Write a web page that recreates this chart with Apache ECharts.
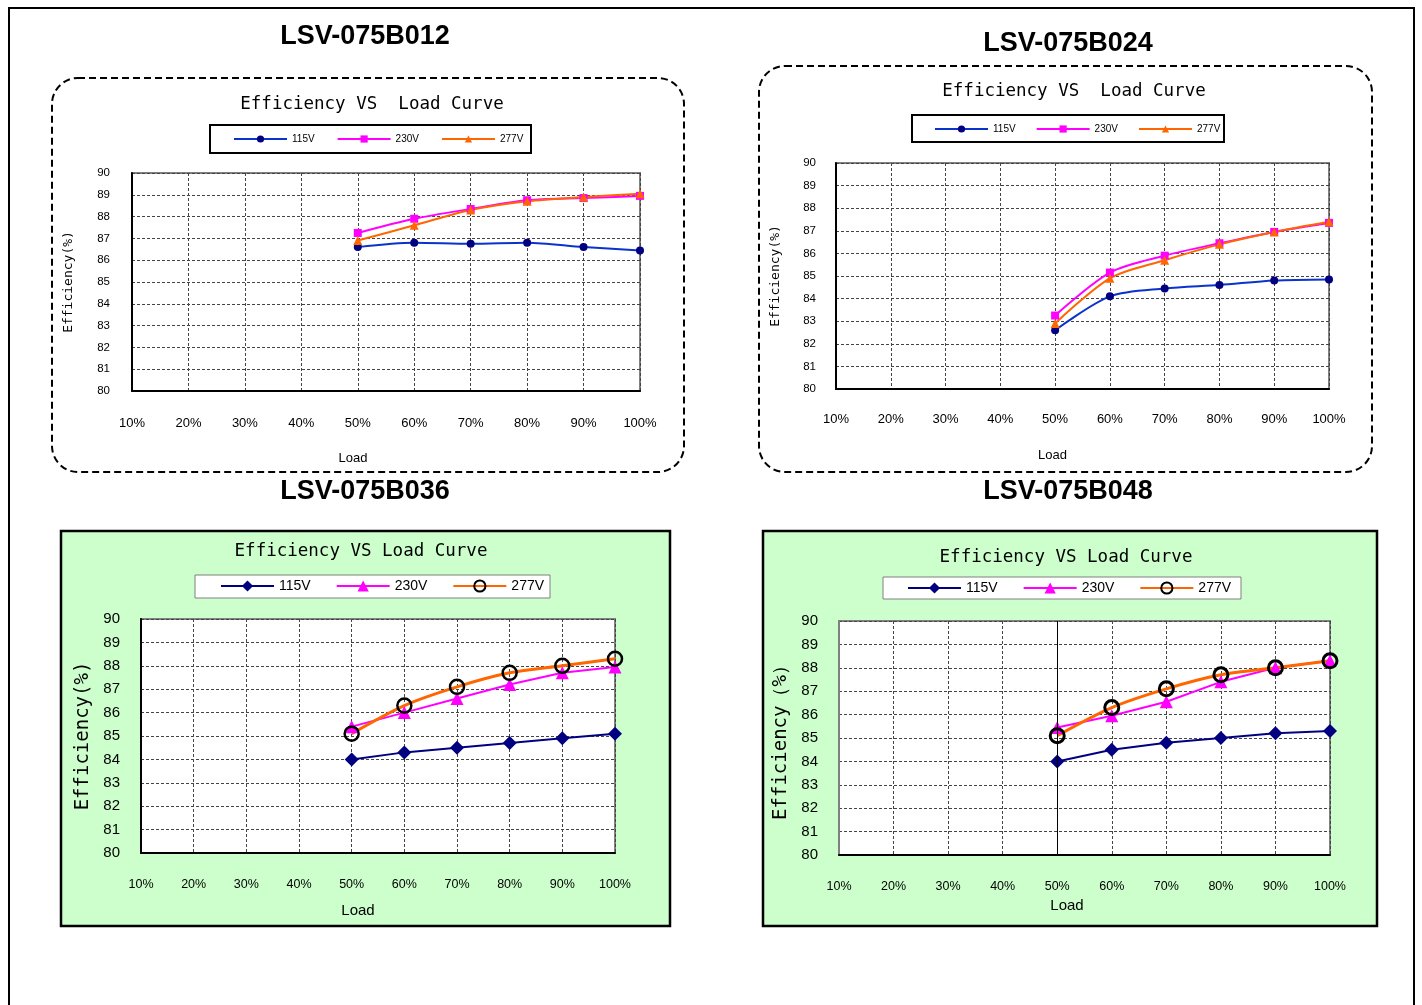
<!DOCTYPE html>
<html>
<head>
<meta charset="utf-8">
<script src="https://cdn.jsdelivr.net/npm/echarts@6/dist/echarts.min.js"></script>
<style>
html,body{margin:0;padding:0;background:#fff;width:1422px;height:1005px;overflow:hidden;}
.c{position:absolute;}
#frame{position:absolute;left:8px;top:7px;width:1407px;height:1100px;border:2px solid #000;box-sizing:border-box;}
</style>
</head>
<body>
<div id="frame"></div>
<div id="c1" class="c" style="left:0;top:0;width:711px;height:478px;"></div>
<div id="c2" class="c" style="left:711px;top:0;width:711px;height:478px;"></div>
<div id="c3" class="c" style="left:0;top:478px;width:711px;height:527px;"></div>
<div id="c4" class="c" style="left:711px;top:478px;width:711px;height:527px;"></div>
<script>
// ---- data ----
var loadLabels = ['10%','20%','30%','40%','50%','60%','70%','80%','90%','100%'];
var seriesNames = ['115V','230V','277V'];
var yTicks = [80, 90, 1];

var b012_115 = [null,null,null,null,86.6,86.8,86.75,86.8,86.6,86.45];
var b012_230 = [null,null,null,null,87.25,87.9,88.35,88.75,88.85,88.95];
var b012_277 = [null,null,null,null,86.9,87.6,88.3,88.7,88.9,89.05];

var b024_115 = [null,null,null,null,82.6,84.1,84.45,84.6,84.8,84.85];
var b024_230 = [null,null,null,null,83.25,85.15,85.9,86.45,86.95,87.35];
var b024_277 = [null,null,null,null,82.9,84.9,85.7,86.4,86.95,87.4];

var b036_115 = [null,null,null,null,84.0,84.3,84.5,84.7,84.9,85.1];
var b036_230 = [null,null,null,null,85.4,86.0,86.6,87.2,87.7,87.95];
var b036_277 = [null,null,null,null,85.1,86.3,87.1,87.7,88.0,88.3];

var b048_115 = [null,null,null,null,84.0,84.5,84.8,85.0,85.2,85.3];
var b048_230 = [null,null,null,null,85.45,85.95,86.55,87.4,88.0,88.3];
var b048_277 = [null,null,null,null,85.1,86.3,87.1,87.7,88.0,88.3];

var SANS = 'Liberation Sans';
var MONO = 'DejaVu Sans Mono';

function styleA(data){ // dashed-box charts
  return [
    {name:seriesNames[0], type:'line', data:data[0], smooth:0.3, symbol:'circle', symbolSize:8,
     lineStyle:{color:'#0a33cc', width:2}, itemStyle:{color:'#000080'}},
    {name:seriesNames[1], type:'line', data:data[1], smooth:0.3, symbol:'rect', symbolSize:8,
     lineStyle:{color:'#ff00ff', width:2}, itemStyle:{color:'#ff00ff'}},
    {name:seriesNames[2], type:'line', data:data[2], smooth:0.3, symbol:'triangle', symbolSize:9,
     lineStyle:{color:'#ff6600', width:2}, itemStyle:{color:'#ff6600'}}
  ];
}
function styleB(data, bw){ // green-box charts
  return [
    {name:seriesNames[0], type:'line', data:data[0], symbol:'diamond', symbolSize:14,
     lineStyle:{color:'#000080', width:2}, itemStyle:{color:'#000080'}},
    {name:seriesNames[1], type:'line', data:data[1], symbol:'triangle', symbolSize:13,
     lineStyle:{color:'#ff00ff', width:2}, itemStyle:{color:'#ff00ff'}},
    {name:seriesNames[2], type:'line', data:data[2], smooth:0.3, symbol:'circle', symbolSize:14,
     lineStyle:{color:'#ff6600', width:3}, itemStyle:{color:'rgba(0,0,0,0)', borderColor:'#000', borderWidth:bw}}
  ];
}

function build(id, c){
  var chart = echarts.init(document.getElementById(id), null, {renderer:'canvas'});
  var g = [];
  if (c.box.type === 'dash') {
    g.push({type:'rect', z:-10, shape:{x:c.box.x, y:c.box.y, width:c.box.w, height:c.box.h, r:26},
      style:{fill:'#fff', stroke:'#000', lineWidth:2, lineDash:[7,4]}});
    g.push({type:'rect', z:-5, shape:{x:c.lg.x, y:c.lg.y, width:c.lg.w, height:c.lg.h},
      style:{fill:'#fff', stroke:'#000', lineWidth:2}});
  } else {
    g.push({type:'rect', z:-10, shape:{x:c.box.x, y:c.box.y, width:c.box.w, height:c.box.h},
      style:{fill:'#ccffcc', stroke:'#000', lineWidth:2.5}});
    g.push({type:'rect', z:-5, shape:{x:c.lg.x, y:c.lg.y, width:c.lg.w, height:c.lg.h},
      style:{fill:'#fff', stroke:'#808080', lineWidth:1}});
  }
  g.push({type:'text', z:10, x:c.title.x, y:c.title.y,
    style:{text:c.title.text, align:'center', verticalAlign:'middle', fill:'#000',
      font:'bold 27px "' + SANS + '"'}});
  g.push({type:'text', z:10, x:c.sub.x, y:c.sub.y,
    style:{text:c.sub.text, align:'center', verticalAlign:'middle', fill:'#000',
      font:'17.5px "' + MONO + '"'}});

  var series = c.series;
  if (c.crossLine) {
    series[0].markLine = {silent:true, symbol:'none', label:{show:false},
      lineStyle:{color:'#000', width:1, type:'solid'}, data:[{xAxis:c.crossLine}]};
  }

  chart.setOption({
    animation:false,
    graphic:g,
    legend:{data:seriesNames, left:c.leg.left, top:c.leg.top, padding:0,
      itemWidth:53, itemHeight:c.leg.ih, itemGap:c.leg.gap,
      textStyle:{fontSize:c.leg.fs, color:'#000', fontFamily:SANS}},
    grid:{left:c.grid[0], top:c.grid[1], right:c.grid[2], bottom:c.grid[3], show:true,
      backgroundColor:'#fff', borderColor:'#808080', borderWidth:2},
    xAxis:{type:'category', data:loadLabels, boundaryGap:false,
      name:'Load', nameLocation:'middle', nameGap:c.xName.gap,
      nameTextStyle:{fontSize:c.xName.fs, color:'#000', fontFamily:SANS, padding:[0, c.xName.shift, 0, 0]},
      axisLine:{lineStyle:{color:'#000', width:2}}, axisTick:{show:false},
      axisLabel:{margin:c.xLab.margin, fontSize:c.xLab.fs, color:'#000', fontFamily:SANS, interval:0},
      splitLine:{show:true, interval:0, lineStyle:{color:'#444', width:1, type:[3,2]}}},
    yAxis:{type:'value', min:yTicks[0], max:yTicks[1], interval:yTicks[2],
      name:c.yName.text, nameLocation:'middle', nameGap:c.yName.gap, nameRotate:90,
      nameTextStyle:{fontSize:c.yName.fs, color:'#000', fontFamily:MONO},
      axisLine:{show:true, lineStyle:{color:c.yAxisColor || '#000', width:2}}, axisTick:{show:false},
      axisLabel:{margin:c.yLab.margin, fontSize:c.yLab.fs, color:'#000', fontFamily:SANS},
      splitLine:{show:true, lineStyle:{color:'#444', width:1, type:[3,2]}}},
    series:series
  });
}

build('c1', {
  box:{type:'dash', x:52, y:78, w:632, h:394},
  lg:{x:210, y:125, w:321, h:28},
  leg:{left:233, top:134, ih:9, gap:22, fs:10},
  title:{text:'LSV-075B012', x:365, y:37},
  sub:{text:'Efficiency VS  Load Curve', x:372, y:104},
  grid:[132, 173, 71, 87],
  xName:{gap:61, fs:13, shift:66},
  xLab:{margin:26, fs:13},
  yName:{text:'Efficiency(%)', gap:57, fs:13},
  yLab:{margin:22, fs:11.5},
  series:styleA([b012_115, b012_230, b012_277])
});
build('c2', {
  box:{type:'dash', x:48, y:66, w:613, h:406},
  lg:{x:201, y:115, w:312, h:27},
  leg:{left:223, top:124, ih:9, gap:20, fs:10},
  title:{text:'LSV-075B024', x:357, y:44},
  sub:{text:'Efficiency VS  Load Curve', x:363, y:91},
  grid:[125, 163, 93, 89],
  xName:{gap:60, fs:13, shift:60},
  xLab:{margin:24, fs:13},
  yName:{text:'Efficiency(%)', gap:54, fs:13},
  yLab:{margin:20, fs:11.5},
  series:styleA([b024_115, b024_230, b024_277])
});
build('c3', {
  box:{type:'green', x:61, y:53, w:609, h:395},
  lg:{x:195, y:97, w:355, h:23},
  leg:{left:220, top:101, ih:14, gap:25, fs:14},
  title:{text:'LSV-075B036', x:365, y:14},
  sub:{text:'Efficiency VS Load Curve', x:361, y:73},
  grid:[141, 141, 96, 152],
  xName:{gap:50, fs:15, shift:40},
  xLab:{margin:25, fs:12.5},
  yName:{text:'Efficiency(%)', gap:45, fs:19},
  yLab:{margin:21, fs:15},
  series:styleB([b036_115, b036_230, b036_277], 2.5)
});
build('c4', {
  box:{type:'green', x:52, y:53, w:614, h:395},
  lg:{x:172, y:99, w:358, h:22},
  leg:{left:196, top:103, ih:14, gap:25, fs:14},
  title:{text:'LSV-075B048', x:357, y:14},
  sub:{text:'Efficiency VS Load Curve', x:355, y:79},
  grid:[128, 143, 92, 150],
  xName:{gap:43, fs:15, shift:35},
  xLab:{margin:25, fs:12.5},
  yName:{text:'Efficiency（%）', gap:46, fs:19},
  yLab:{margin:21, fs:15},
  yAxisColor:'#808080',
  crossLine:'50%',
  series:styleB([b048_115, b048_230, b048_277], 3)
});
</script>
</body>
</html>
